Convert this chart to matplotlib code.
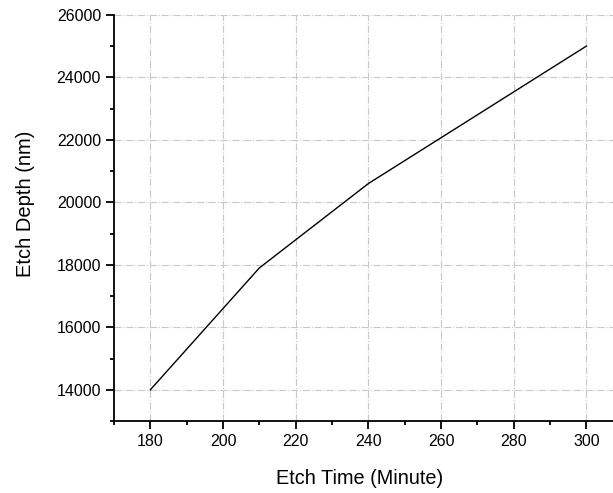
import numpy as np
import matplotlib.pyplot as plt
from matplotlib.ticker import MultipleLocator

plt.rcParams['font.family'] = ['Liberation Sans', 'DejaVu Sans']

# etch data
etch_time = [180, 210, 240, 300]
etch_depth = [14000, 17900, 20600, 25000]

fig = plt.figure(figsize=(6.13, 4.93), dpi=100)
ax = fig.add_axes([0.186, 0.146, 0.830, 0.824])

ax.plot(etch_time, etch_depth, color='black', linewidth=1)

ax.set_xlim(170, 310)
ax.set_ylim(13000, 26000)
ax.xaxis.set_minor_locator(MultipleLocator(10))
ax.yaxis.set_minor_locator(MultipleLocator(1000))
ax.set_xticks(range(180, 301, 20))
ax.set_yticks(range(14000, 26001, 2000))

ax.grid(True, which='major', color='#c8c8c8', linestyle='-.', linewidth=0.8)
ax.spines['top'].set_visible(False)
ax.spines['right'].set_visible(False)
ax.spines['left'].set_linewidth(1.3)
ax.spines['bottom'].set_linewidth(1.3)
ax.tick_params(which='major', direction='out', length=5.8, width=1.3, labelsize=11.5, pad=3.5)
ax.tick_params(which='minor', direction='out', length=3, width=1.3)

ax.set_xlabel('Etch Time (Minute)', fontsize=14.3)
ax.set_ylabel('Etch Depth (nm)', fontsize=14.5)
ax.xaxis.set_label_coords(0.4835, -0.118)
ax.yaxis.set_label_coords(-0.155, 0.534)

plt.savefig('out.png', dpi=100)
